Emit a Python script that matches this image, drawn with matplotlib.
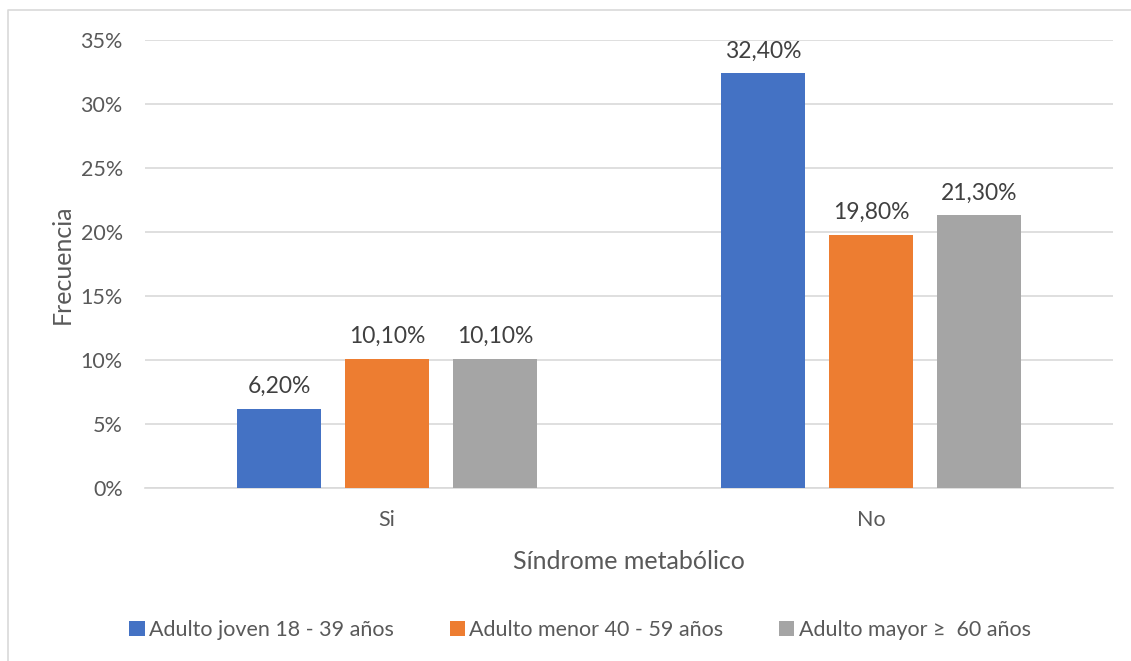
import matplotlib
matplotlib.use("Agg")
import matplotlib.pyplot as plt
from matplotlib.lines import Line2D
import numpy as np

plt.rcParams['font.family'] = ['Lato', 'DejaVu Sans']

categories = ["Si", "No"]
series_names = ["Adulto joven 18 - 39 años",
                "Adulto menor 40 - 59 años",
                "Adulto mayor \u2265  60 años"]
series_values = [
    [6.2, 32.4],
    [10.1, 19.8],
    [10.1, 21.3],
]
colors = ["#4472C4", "#ED7D31", "#A5A5A5"]
y_ticks = [0, 5, 10, 15, 20, 25, 30, 35]

text_color = "#595959"
grid_color = "#D9D9D9"

W, H = 1131, 661
fig = plt.figure(figsize=(W / 100, H / 100), dpi=100)
ax = fig.add_axes([145 / W, 1 - 488 / H, (1113 - 145) / W, (488 - 40) / H])

x = np.arange(len(categories))
width = 0.175
step = 0.223
for i, (name, vals, col) in enumerate(zip(series_names, series_values, colors)):
    pos = x + (i - 1) * step
    ax.bar(pos, vals, width=width, color=col, label=name, zorder=3)
    for p, v in zip(pos, vals):
        ax.text(p, v + 0.9, f"{v:.2f}%".replace(".", ","), ha="center", va="bottom",
                fontsize=16.5, color="#404040")

ax.set_xlim(-0.5, 1.5)
ax.set_ylim(0, 35)
ax.set_yticks(y_ticks)
ax.set_yticklabels([f"{t}%" for t in y_ticks])
ax.set_xticks(x)
ax.set_xticklabels(categories)
ax.yaxis.grid(True, color=grid_color, linewidth=1.2, zorder=0)
ax.set_axisbelow(True)
for s in ["top", "right", "left"]:
    ax.spines[s].set_visible(False)
ax.spines["bottom"].set_color(grid_color)
ax.spines["bottom"].set_linewidth(1.2)
ax.tick_params(axis="both", length=0, labelsize=15.5, colors=text_color)
ax.tick_params(axis="y", pad=16)
ax.tick_params(axis="x", pad=16)

ax.set_xlabel("Síndrome metabólico", fontsize=18, color=text_color, labelpad=14)
ax.set_ylabel("Frecuencia", fontsize=18, color=text_color, labelpad=5)

fig.legend(loc="center", bbox_to_anchor=(580 / W, 1 - 630 / H), ncol=3,
           frameon=False, fontsize=15.5, handlelength=0.7, handleheight=0.7,
           handletextpad=0.2, columnspacing=2.6, labelcolor=text_color)

# chart area border
fig.add_artist(Line2D([8 / W, 8 / W, 1.0], [0.0, 1 - 10 / H, 1 - 10 / H],
                      transform=fig.transFigure, color="#D9D9D9", linewidth=1.2))

fig.savefig("out.png", dpi=100)
